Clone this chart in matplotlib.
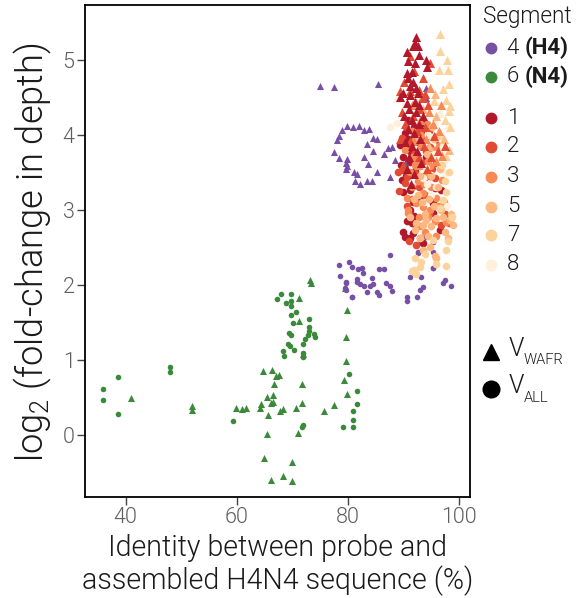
import matplotlib
matplotlib.use("Agg")
import matplotlib.pyplot as plt
from matplotlib.lines import Line2D

FAM = ['Roboto', 'DejaVu Sans']
plt.rcParams['font.family'] = FAM
plt.rcParams['mathtext.default'] = 'regular'

# ---------------- data ----------------
# Segment 4 (H4) - purple
s4_tri_x = [75.1, 77.5, 85.5, 79.8, 78.9, 81.0, 82.1, 82.9, 83.8, 78.5, 78.1, 84.5, 85.3, 83.5, 84.6, 87.3, 88.0,
            86.5, 77.5, 78.5, 79.8, 79.7, 79.9, 79.7, 82.9, 83.7, 88.6, 85.3, 87.6, 81.1, 81.6, 81.3, 82.3, 83.4,
            84.3, 90.3, 90.1, 94.1, 94.1, 95.7]
s4_tri_y = [4.65, 4.64, 4.68, 4.12, 4.07, 4.10, 4.12, 4.07, 4.08, 3.99, 3.93, 3.96, 3.94, 3.88, 3.78, 3.82, 3.84,
            3.74, 3.77, 3.69, 3.68, 3.63, 3.59, 3.55, 3.70, 3.61, 3.67, 3.50, 3.44, 3.50, 3.48, 3.39, 3.35, 3.38,
            3.38, 3.62, 3.58, 4.62, 4.49, 3.98]
s4_cir_x = [87.6, 78.5, 80.3, 80.7, 78.7, 81.9, 82.5, 82.8, 85.6, 86.5, 84.3, 81.6, 82.3, 82.9, 84.0, 84.6, 79.7,
            79.6, 80.8, 83.4, 85.2, 85.6, 86.9, 87.6, 87.9, 90.6, 90.6, 92.5, 93.0, 93.6, 91.3, 93.3, 92.7, 95.4,
            95.4, 95.4, 96.0, 97.2, 97.5, 98.7, 94.1, 79.7, 79.7, 80.8, 81.6, 93.3, 92.7, 95.4, 95.3]
s4_cir_y = [2.40, 2.27, 2.31, 2.24, 2.12, 2.21, 2.23, 2.16, 2.21, 2.21, 2.09, 2.08, 2.01, 1.98, 1.98, 2.01, 2.04,
            1.96, 1.84, 1.90, 1.91, 1.87, 2.02, 1.98, 1.92, 1.84, 1.78, 1.84, 1.93, 1.97, 2.11, 2.11, 2.43, 2.57,
            2.44, 2.22, 2.29, 2.02, 2.06, 1.99, 2.64, 2.02, 1.93, 1.84, 2.04, 2.56, 2.44, 2.57, 2.22]

# Segment 6 (N4) - green
s6_cir_x = [35.9, 35.9, 38.6, 38.6, 48.0, 48.0, 59.3, 67.3, 67.9, 68.9, 69.7, 69.7, 69.7, 69.7, 70.7, 70.1, 69.4,
            69.7, 69.3, 69.6, 68.4, 68.6, 70.3, 71.9, 72.4, 73.0, 73.0, 73.1, 72.9, 73.9, 74.1, 72.0, 72.0, 71.9,
            71.7, 80.2, 79.2, 80.9, 81.0, 80.9, 81.7, 81.7]
s6_cir_y = [0.61, 0.46, 0.77, 0.28, 0.90, 0.84, 0.18, 1.81, 1.88, 1.76, 1.88, 1.79, 1.72, 1.60, 1.64, 1.49, 1.36,
            1.33, 1.21, 1.18, 1.12, 1.05, 1.13, 1.21, 1.28, 1.54, 1.44, 1.38, 1.33, 1.35, 1.30, 1.09, 1.04, 0.13,
            0.10, 0.81, 0.10, 0.20, 0.11, 0.32, 0.58, 0.41]
s6_tri_x = [40.9, 51.9, 51.9, 59.9, 60.9, 61.6, 64.2, 64.4, 64.8, 65.4, 65.6, 65.4, 65.0, 66.3, 66.5, 66.2, 66.5,
            66.8, 67.1, 67.6, 67.8, 68.3, 66.2, 68.4, 70.0, 70.0, 70.6, 71.0, 71.2, 71.3, 71.8, 71.8, 71.9, 73.2,
            73.4, 75.8, 77.6, 79.3, 79.8, 79.7, 79.7, 79.8, 79.5]
s6_tri_y = [0.49, 0.38, 0.33, 0.36, 0.35, 0.36, 0.36, 0.41, 0.85, 0.50, 0.27, 0.01, -0.31, 0.87, 0.53, 0.43, 0.44,
            0.68, 0.79, 0.80, 0.32, 0.35, -0.60, -0.55, -0.62, -0.36, 0.36, 0.03, 1.83, 1.52, 0.68, 0.42, 1.08, 2.07,
            2.03, 0.32, 0.40, 0.73, 1.67, 1.30, 0.98, 0.54, 1.96]

# Segment 1
s1_tri_x = [92.4, 92.1, 91.8, 92.7, 90.6, 92.9, 90.9, 92.1, 94.1, 94.3, 91.5, 90.6, 90.9, 91.8, 91.3, 92.4, 90.0,
            91.2, 92.7, 89.4, 92.1, 90.6, 91.0, 92.3, 90.2, 91.5, 92.8, 90.8, 91.9, 93.0, 90.4, 91.6, 92.5, 91.0,
            93.3, 90.6, 92.0, 91.4, 92.8, 93.5]
s1_tri_y = [5.30, 5.23, 5.19, 5.19, 5.10, 5.07, 4.99, 4.96, 5.00, 4.90, 4.84, 4.82, 4.76, 4.71, 4.65, 4.62, 4.56,
            4.53, 4.56, 4.51, 4.44, 4.43, 4.35, 4.30, 4.25, 4.20, 4.15, 4.08, 4.02, 3.95, 3.90, 3.85, 3.78, 3.70,
            3.62, 3.55, 3.48, 3.35, 4.40, 4.25]
s1_cir_x = [90.3, 89.4, 91.3, 91.2, 89.7, 90.0, 91.2, 93.9, 95.7, 96.9, 95.3, 91.3, 93.6, 90.0, 90.3, 91.2, 91.8,
            91.5, 96.6, 93.6, 95.4, 92.0, 90.8, 92.6, 89.9, 92.2, 90.5, 93.0, 92.0, 94.2, 90.9, 93.2, 89.6, 94.8,
            91.7, 90.7]
s1_cir_y = [4.03, 3.87, 3.78, 3.64, 3.40, 3.24, 3.27, 3.36, 3.29, 3.27, 3.09, 3.00, 4.16, 2.71, 2.64, 2.62, 2.69,
            2.83, 2.73, 2.56, 2.96, 4.10, 3.95, 3.90, 3.70, 3.52, 3.45, 3.15, 2.92, 3.70, 4.20, 4.05, 3.60, 3.45,
            3.10, 2.85]

# Segment 2
s2_tri_x = [90.6, 91.2, 94.8, 93.6, 89.4, 91.2, 92.9, 93.6, 94.5, 89.8, 93.1, 91.8, 94.0, 90.3, 92.5, 95.5, 89.5,
            93.8, 91.3, 95.0, 92.9, 96.2, 90.0, 94.3, 97.5, 93.9, 90.2, 92.0]
s2_tri_y = [5.11, 5.05, 4.96, 4.76, 4.58, 4.59, 4.60, 4.49, 4.40, 4.30, 4.35, 4.25, 4.10, 4.15, 4.05, 3.98, 3.95,
            3.85, 3.92, 3.70, 3.70, 3.78, 3.60, 3.55, 3.85, 4.55, 4.70, 4.85]
s2_cir_x = [89.7, 90.0, 89.0, 90.7, 90.3, 92.1, 94.8, 94.2, 96.3, 92.7, 92.4, 93.0, 91.0, 92.8, 94.0, 91.5, 95.2,
            93.5, 90.6, 94.6, 96.8, 97.6, 91.9, 93.9, 95.8, 89.2, 90.5, 92.4, 98.3, 96.0, 91.1, 94.7]
s2_cir_y = [3.96, 3.53, 3.51, 3.44, 3.36, 3.49, 3.84, 3.78, 3.93, 4.07, 2.53, 2.62, 3.85, 3.30, 3.20, 3.15, 3.55,
            3.62, 3.05, 2.95, 2.80, 2.95, 3.75, 3.95, 3.42, 3.25, 4.10, 2.78, 2.82, 3.62, 2.58, 4.05]

# Segment 3
s3_tri_x = [93.4, 94.6, 92.2, 95.3, 93.0, 96.4, 91.8, 94.1, 95.9, 92.6, 97.0, 94.9, 91.5, 96.8]
s3_tri_y = [4.50, 4.30, 4.45, 4.15, 4.20, 4.05, 3.95, 3.95, 3.65, 3.60, 3.72, 4.62, 4.40, 4.40]
s3_cir_x = [91.8, 92.4, 93.0, 93.6, 92.4, 93.6, 94.8, 96.0, 90.6, 90.9, 90.9, 97.8, 94.5, 93.0, 92.0, 93.3, 94.5,
            95.5, 91.3, 92.6, 94.0, 95.1, 96.3, 97.0, 93.2, 94.3, 91.6, 95.7, 92.8, 94.0, 91.6, 93.8, 95.9, 97.3,
            92.1, 94.9, 90.4, 96.5]
s3_cir_y = [3.71, 3.64, 3.58, 3.22, 3.09, 3.04, 3.00, 3.16, 3.16, 3.00, 2.96, 2.84, 2.91, 2.78, 3.90, 3.85, 3.65,
            3.80, 3.50, 3.38, 3.45, 3.30, 3.05, 3.40, 4.00, 4.15, 4.05, 2.85, 2.90, 2.70, 3.30, 3.35, 2.65, 3.10,
            3.60, 3.58, 3.80, 3.85]

# Segment 5
s5_tri_x = [96.0, 94.7, 97.3, 93.5, 98.2, 95.8]
s5_tri_y = [4.25, 3.85, 3.95, 4.35, 3.80, 4.55]
s5_cir_x = [91.2, 92.4, 93.6, 94.2, 96.0, 97.2, 98.4, 99.0, 95.1, 92.1, 95.7, 93.6, 94.8, 96.0, 93.4, 94.6, 95.6,
            96.8, 98.6, 92.7, 93.9, 95.0, 96.2, 94.3, 95.6, 93.0, 91.9, 97.5, 98.0, 93.0, 94.4, 96.7, 92.4, 95.2]
s5_cir_y = [2.91, 2.82, 2.80, 2.87, 2.89, 2.91, 2.87, 2.80, 2.78, 2.73, 2.38, 2.47, 2.51, 2.36, 3.10, 3.15, 3.05,
            3.00, 2.95, 3.20, 2.95, 3.45, 3.30, 3.75, 3.95, 3.45, 3.15, 2.70, 2.62, 2.62, 2.65, 3.55, 3.95, 4.10]

# Segment 7
s7_tri_x = [96.6, 96.6, 97.9, 96.5, 98.0, 98.3, 97.2, 97.7, 98.4, 98.3, 97.6, 96.9, 98.5, 95.5, 97.8]
s7_tri_y = [5.35, 5.12, 5.00, 4.87, 4.87, 4.68, 4.61, 4.47, 4.39, 4.32, 4.20, 4.00, 4.10, 4.45, 3.72]
s7_cir_x = [98.1, 97.7, 92.1, 93.3, 96.0, 97.7, 91.9, 91.5, 93.0, 92.4, 93.9, 97.5, 97.8, 97.2, 96.6, 98.8, 95.3,
            97.0, 98.2]
s7_cir_y = [2.58, 2.46, 2.36, 2.31, 2.28, 2.25, 2.20, 2.19, 2.24, 2.15, 2.41, 3.38, 3.24, 3.13, 3.02, 2.90, 2.60,
            3.60, 3.50]

# Segment 8
s8_tri_x = [88.9, 96.6, 98.0, 95.8, 90.2, 96.9]
s8_tri_y = [4.49, 4.29, 4.13, 4.18, 4.40, 3.80]
s8_cir_x = [94.2, 95.1, 96.3, 96.6, 97.5, 97.7, 93.6, 87.7, 88.8, 96.0, 95.0, 97.2, 94.3, 93.8, 96.9, 95.6, 94.5,
            97.9]
s8_cir_y = [3.56, 3.47, 3.64, 3.56, 3.67, 3.49, 3.42, 4.11, 4.16, 3.30, 3.20, 3.85, 3.35, 3.10, 3.95, 3.75, 4.00,
            3.05]

legend_labels = ['1', '2', '3', '5', '7', '8']
x_ticks = [40, 60, 80, 100]
y_ticks = [0, 1, 2, 3, 4, 5]

# ---------------- style ----------------
c_purple = '#7750A6'
c_green = '#3B8A3B'
seg_colors = {'1': '#B2182B', '2': '#E34A33', '3': '#F88A56', '5': '#FDB882', '7': '#FDD39C', '8': '#FEF0DA'}
LW = 300  # light weight
TXT = '#1a1a1a'
TICKC = '#5e5e5e'

W, H = 576, 598
fig = plt.figure(figsize=(W / 100, H / 100), dpi=100)
ax = fig.add_axes([85 / W, 1 - 497 / H, (470 - 85) / W, (497 - 5) / H])
renderer = fig.canvas.get_renderer()


def fit_width(t, target_px):
    bb = t.get_window_extent(renderer=renderer)
    w = bb.width if bb.width > 0 else 1
    t.set_fontsize(t.get_fontsize() * target_px / w)


s_small_c, s_small_t = 16, 26
s_big_c, s_big_t = 30, 42

ax.scatter(s6_cir_x, s6_cir_y, s=s_small_c, marker='o', color=c_green, lw=0)
ax.scatter(s6_tri_x, s6_tri_y, s=s_small_t, marker='^', color=c_green, lw=0)
ax.scatter(s4_cir_x, s4_cir_y, s=s_small_c, marker='o', color=c_purple, lw=0)
ax.scatter(s4_tri_x, s4_tri_y, s=s_small_t, marker='^', color=c_purple, lw=0)

cir = {'1': (s1_cir_x, s1_cir_y), '2': (s2_cir_x, s2_cir_y), '3': (s3_cir_x, s3_cir_y),
       '5': (s5_cir_x, s5_cir_y), '7': (s7_cir_x, s7_cir_y), '8': (s8_cir_x, s8_cir_y)}
tri = {'1': (s1_tri_x, s1_tri_y), '2': (s2_tri_x, s2_tri_y), '3': (s3_tri_x, s3_tri_y),
       '5': (s5_tri_x, s5_tri_y), '7': (s7_tri_x, s7_tri_y), '8': (s8_tri_x, s8_tri_y)}
for k in ['1', '2', '3', '8', '5', '7']:
    ax.scatter(*cir[k], s=s_big_c, marker='o', color=seg_colors[k], lw=0)
for k in ['8', '7', '5', '3', '2', '1']:
    ax.scatter(*tri[k], s=s_big_t, marker='^', color=seg_colors[k], lw=0)

ax.set_xlim(32.67, 102.04)
ax.set_ylim(-0.827, 5.733)
ax.set_xticks(x_ticks)
ax.set_yticks(y_ticks)
ax.tick_params(direction='out', length=5.5, width=1, color='#444444', labelcolor=TICKC, labelsize=15.5, pad=2)
for sp in ax.spines.values():
    sp.set_linewidth(1.3)
    sp.set_color('black')
for lab in ax.get_xticklabels() + ax.get_yticklabels():
    lab.set_fontweight(LW)


def fx(px):
    return px / W


def fy(py):
    return 1 - py / H


# x label: two lines
xl = ax.set_xlabel('Identity between probe and\nassembled H4N4 sequence (%)', fontsize=18, fontweight=LW,
                   linespacing=1.15, color=TXT)
probe = fig.text(0, 0, 'assembled H4N4 sequence (%)', fontsize=18, fontweight=LW)
bb = probe.get_window_extent(renderer=renderer)
scale = 393 / bb.width
probe.remove()
xl.set_fontsize(18 * scale)
ax.xaxis.set_label_coords(fx(277.5), fy(534), transform=fig.transFigure)

yl = ax.set_ylabel('log$_2$ (fold-change in depth)', fontsize=20, fontweight=LW, color=TXT)
bb = yl.get_window_extent(renderer=renderer)
yl.set_fontsize(20 * 420 / bb.height)
yl.set_rotation_mode('default')
yl.set_va('center')
yl.set_ha('center')
ax.yaxis.set_label_coords(fx(33), fy(252), transform=fig.transFigure)

# legend (drawn by hand)
tseg = fig.text(fx(483), fy(16), 'Segment', fontsize=14, fontweight=LW, va='center', ha='left', color=TXT)
fit_width(tseg, 89)
fsz = 16
entries = [('4 ', '(H4)', c_purple, 48), ('6 ', '(N4)', c_green, 77)]
for num, bold, col, py in entries:
    fig.add_artist(Line2D([fx(491)], [fy(py)], marker='o', ms=7.5, color=col, lw=0, transform=fig.transFigure))
    fig.text(fx(507), fy(py), num, fontsize=fsz, fontweight=LW, va='center', ha='left', color=TXT)
    fig.text(fx(525), fy(py), bold, fontsize=fsz, fontweight='bold', va='center', ha='left', color=TXT)
seg_y = [118, 147, 177, 207, 235, 265]
for lab, py in zip(legend_labels, seg_y):
    fig.add_artist(Line2D([fx(491)], [fy(py)], marker='o', ms=7.5, color=seg_colors[lab], lw=0,
                          transform=fig.transFigure))
    fig.text(fx(507), fy(py), lab, fontsize=fsz, fontweight=LW, va='center', ha='left', color=TXT)

fig.add_artist(Line2D([fx(491)], [fy(352)], marker='^', ms=12, color='black', lw=0, transform=fig.transFigure))
fig.text(fx(509), fy(349), 'V', fontsize=18, fontweight=LW, va='center', ha='left', color=TXT)
fig.text(fx(524), fy(360), 'WAFR', fontsize=10.5, fontweight=LW, va='center', ha='left', color=TXT)
fig.add_artist(Line2D([fx(491)], [fy(389)], marker='o', ms=12, color='black', lw=0, transform=fig.transFigure))
fig.text(fx(509), fy(386), 'V', fontsize=18, fontweight=LW, va='center', ha='left', color=TXT)
fig.text(fx(524), fy(398), 'ALL', fontsize=10.5, fontweight=LW, va='center', ha='left', color=TXT)

fig.savefig('out.png', dpi=100)
